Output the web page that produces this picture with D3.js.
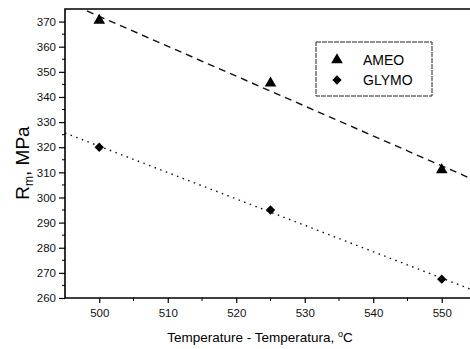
<!DOCTYPE html>
<html>
<head>
<meta charset="utf-8">
<script src="https://cdn.jsdelivr.net/npm/d3@7"></script>
<style>
  body { margin: 0; background: #fff; }
  svg { font-family: "Liberation Sans", Arial, sans-serif; }
</style>
</head>
<body>
<svg id="chart" width="470" height="349"></svg>
<script>
// data
const temps = [500, 525, 550];
const ameo = [370.5, 345.5, 311];
const glymo = [320, 295, 267.5];
const seriesNames = ["AMEO", "GLYMO"];
const xTicks = [500, 510, 520, 530, 540, 550];
const yTicks = [260, 270, 280, 290, 300, 310, 320, 330, 340, 350, 360, 370];

const svg = d3.select("#chart");
const margin = { left: 65, top: 9, right: -6, bottom: 51 };
const W = 470, H = 349;

const x = d3.scaleLinear().domain([495, 555]).range([margin.left, W - margin.right]);
const y = d3.scaleLinear().domain([260, 375]).range([H - margin.bottom, margin.top]);

svg.append("defs").append("clipPath").attr("id", "plot")
  .append("rect")
  .attr("x", margin.left).attr("y", margin.top)
  .attr("width", x.range()[1] - margin.left)
  .attr("height", y.range()[0] - margin.top);

// least squares fit for each series
function fit(xs, ys) {
  const mx = d3.mean(xs), my = d3.mean(ys);
  const slope = d3.sum(xs, (v, i) => (v - mx) * (ys[i] - my)) / d3.sum(xs, v => (v - mx) * (v - mx));
  return t => my + slope * (t - mx);
}

const lines = [
  { ys: ameo, dash: "7,5" },
  { ys: glymo, dash: "1.5,4.5" }
];

const g = svg.append("g").attr("clip-path", "url(#plot)");
lines.forEach(s => {
  const f = fit(temps, s.ys);
  const xs = x.domain();
  g.append("line")
    .attr("x1", x(xs[0])).attr("y1", y(f(xs[0])))
    .attr("x2", x(xs[1])).attr("y2", y(f(xs[1])))
    .attr("stroke", "#111")
    .attr("stroke-width", 1.4)
    .attr("stroke-dasharray", s.dash);
});

// markers
const tri = d3.symbol().type(d3.symbolTriangle).size(58);
const dia = d3.symbol().type(d3.symbolSquare).size(44);

svg.selectAll(".ameo").data(temps).enter().append("path")
  .attr("class", "ameo")
  .attr("d", tri)
  .attr("transform", (d, i) => `translate(${x(d)},${y(ameo[i])})`)
  .attr("fill", "#000");

svg.selectAll(".glymo").data(temps).enter().append("path")
  .attr("class", "glymo")
  .attr("d", dia)
  .attr("transform", (d, i) => `translate(${x(d)},${y(glymo[i])}) rotate(45)`)
  .attr("fill", "#000");

// axes
const xAxis = svg.append("g")
  .attr("transform", `translate(0,${y.range()[0]})`)
  .call(d3.axisBottom(x).tickValues(xTicks).tickSize(5).tickPadding(6).tickFormat(d3.format("d")));
const yAxis = svg.append("g")
  .attr("transform", `translate(${margin.left},0)`)
  .call(d3.axisLeft(y).tickValues(yTicks).tickSize(6).tickPadding(3).tickFormat(d3.format("d")));

[xAxis, yAxis].forEach(a => {
  a.selectAll(".tick line").attr("stroke", "#000").attr("stroke-width", 1.2);
  a.selectAll(".tick text").attr("font-size", 11.5).attr("fill", "#111");
  a.select(".domain").attr("d", null);
});

// minor ticks
svg.append("g").selectAll("line").data(d3.range(505, 555, 10)).enter().append("line")
  .attr("x1", d => x(d)).attr("x2", d => x(d))
  .attr("y1", y.range()[0]).attr("y2", y.range()[0] + 3)
  .attr("stroke", "#000");
svg.append("g").selectAll("line").data(d3.range(265, 375, 10)).enter().append("line")
  .attr("y1", d => y(d)).attr("y2", d => y(d))
  .attr("x1", margin.left).attr("x2", margin.left - 3)
  .attr("stroke", "#000");

// frame lines: left, bottom, top
svg.append("path")
  .attr("d", `M${W},${margin.top}H${margin.left}V${y.range()[0]}H${W}`)
  .attr("fill", "none")
  .attr("stroke", "#000")
  .attr("stroke-width", 1.6);

// legend
const lg = svg.append("g").attr("transform", "translate(316,42)");
lg.append("rect")
  .attr("width", 116).attr("height", 54)
  .attr("fill", "#fff")
  .attr("stroke", "#222")
  .attr("stroke-width", 1)
  .attr("stroke-dasharray", "5,1");
seriesNames.forEach((name, i) => {
  const cy = 18 + i * 20;
  lg.append("path")
    .attr("d", i === 0 ? tri : dia)
    .attr("transform", `translate(21,${cy})` + (i === 1 ? " rotate(45)" : ""))
    .attr("fill", "#000");
  lg.append("text")
    .attr("x", 47).attr("y", cy + 5)
    .attr("font-size", 14)
    .text(name);
});

// axis titles
svg.append("text")
  .attr("x", 260).attr("y", 342)
  .attr("text-anchor", "middle")
  .attr("font-size", 13.5)
  .html('Temperature - Temperatura, <tspan dy="-5" font-size="9">o</tspan><tspan dy="5">C</tspan>');

svg.append("text")
  .attr("transform", "translate(29,163) rotate(-90)")
  .attr("text-anchor", "middle")
  .attr("font-size", 19)
  .html('R<tspan dy="4" font-size="12">m</tspan><tspan dy="-4">, MPa</tspan>');
</script>
</body>
</html>
